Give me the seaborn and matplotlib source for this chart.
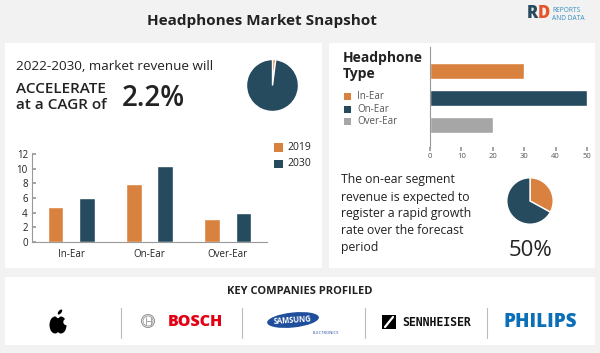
import seaborn as sns
import pandas as pd
import matplotlib.pyplot as plt
import numpy as np
from matplotlib.patches import Rectangle, Ellipse, Circle

# --- data ---
segments = ['In-Ear', 'On-Ear', 'Over-Ear']
years = ['2019', '2030']
revenue_2019 = [4.8, 7.9, 3.2]
revenue_2030 = [6.0, 10.4, 3.9]
type_share = [30, 50, 20]
cagr_pie = [2, 98]
onear_pie = [33, 67]
companies = ['BOSCH', 'SAMSUNG', 'SENNHEISER', 'PHILIPS']

ORANGE = '#d9823f'
NAVY = '#264a5e'
GRAY = '#a6a6a6'
TXT = '#222222'

sns.set_theme(style='white')
plt.rcParams['font.family'] = ['Open Sans', 'DejaVu Sans']

W, H = 600, 353
fig = plt.figure(figsize=(6, 3.53), dpi=100)
fig.patch.set_facecolor('#f2f2f2')


def box(x0, y0, x1, y1):
    # pixel box (top-left origin) -> fig fraction rect
    return [x0 / W, 1 - y1 / H, (x1 - x0) / W, (y1 - y0) / H]


# background layer in pixel coordinates
bg = fig.add_axes([0, 0, 1, 1], zorder=0)
bg.set_xlim(0, W)
bg.set_ylim(H, 0)
bg.axis('off')
for x0, y0, x1, y1 in [(5, 43, 322, 268), (329, 43, 595, 268), (5, 277, 595, 345)]:
    bg.add_patch(Rectangle((x0, y0), x1 - x0, y1 - y0, color='white', lw=0))

# title + logo
bg.text(262, 21, 'Headphones Market Snapshot', ha='center', va='center',
        fontsize=11, fontweight='bold', color=TXT)
bg.text(538, 14, 'R', ha='right', va='center', fontsize=12, fontweight='heavy', color=NAVY)
bg.text(538, 14, 'D', ha='left', va='center', fontsize=12, fontweight='heavy', color='#e8542a')
bg.text(552, 10, 'REPORTS', ha='left', va='center', fontsize=4.8, color='#3a8fc4')
bg.text(552, 18, 'AND DATA', ha='left', va='center', fontsize=4.8, color='#3a8fc4')

# top-left text
bg.text(16, 66, '2022-2030, market revenue will', ha='left', va='center', fontsize=9.7, color=TXT)
bg.text(16, 97, 'ACCELERATE\nat a CAGR of', ha='left', va='center', fontsize=11,
        fontweight='semibold', color=TXT, linespacing=1.15)
bg.text(122, 98, '2.2%', ha='left', va='center', fontsize=20, fontweight='semibold', color=TXT)

# bar chart legend
for i, (yr, col) in enumerate(zip(years, [ORANGE, NAVY])):
    yc = 147 + i * 16.5
    bg.add_patch(Rectangle((274, yc - 4), 8.5, 8.5, color=col, lw=0))
    bg.text(287, yc, yr, ha='left', va='center', fontsize=7.5, color=TXT)

# right panel title + legend
bg.text(343, 66, 'Headphone\nType', ha='left', va='center', fontsize=10,
        fontweight='bold', color=TXT, linespacing=1.2)
for i, (seg, col) in enumerate(zip(segments, [ORANGE, NAVY, GRAY])):
    yc = 96.5 + i * 12.5
    bg.add_patch(Rectangle((344, yc - 3.5), 7, 7, color=col, lw=0))
    bg.text(357, yc, seg, ha='left', va='center', fontsize=7, color='#555555')

bg.text(341, 214, 'The on-ear segment\nrevenue is expected to\nregister a rapid growth\n'
        'rate over the forecast\nperiod', ha='left', va='center', fontsize=8.8,
        color=TXT, linespacing=1.4)
bg.text(530, 250, '50%', ha='center', va='center', fontsize=16, color=TXT)

# bottom panel: companies
bg.text(300, 291, 'KEY COMPANIES PROFILED', ha='center', va='center', fontsize=8,
        fontweight='bold', color=TXT)
for sx in [121, 242, 365, 487]:
    bg.plot([sx, sx], [308, 338], color='#bbbbbb', lw=0.8)

# apple
bg.add_patch(Ellipse((55, 325), 11, 17, color='black', lw=0))
bg.add_patch(Ellipse((61, 325), 11, 17, color='black', lw=0))
bg.add_patch(Circle((66.5, 322), 3.2, color='white', lw=0))
bg.add_patch(Circle((58, 316.5), 1.6, color='white', lw=0))
bg.add_patch(Ellipse((60, 312), 3, 6, angle=40, color='black', lw=0))

# bosch
bg.add_patch(Circle((148, 321), 6.5, fill=False, ec='#999999', lw=0.8))
bg.add_patch(Circle((148, 321), 5, fill=False, ec='#999999', lw=0.6))
bg.plot([145.5, 145.5], [317, 325], color='#999999', lw=0.6)
bg.plot([150.5, 150.5], [317, 325], color='#999999', lw=0.6)
bg.plot([145.5, 150.5], [321, 321], color='#999999', lw=0.6)
bg.text(168, 321.5, companies[0], ha='left', va='center', fontsize=11.5,
        fontweight='heavy', color='#e20015')

# samsung
bg.add_patch(Ellipse((293, 320), 52, 15, angle=-6, color='#1f4e9c', lw=0))
bg.text(292, 320, companies[1], ha='center', va='center', fontsize=5.5,
        fontweight='bold', color='white', rotation=4)
bg.text(326, 333, 'ELECTRONICS', ha='center', va='center', fontsize=3, color='#1f4e9c')

# sennheiser
bg.add_patch(Rectangle((382, 315), 14, 14, color='black', lw=0))
bg.plot([385, 393], [327, 317], color='white', lw=1.6)
bg.text(402, 322, companies[2], ha='left', va='center', fontsize=8.3,
        fontweight='bold', color='#111111', family='DejaVu Sans Mono')

# philips
bg.text(540, 322, companies[3], ha='center', va='center', fontsize=13.5,
        fontweight='heavy', color='#0b6fb8')

# --- grouped bar chart ---
df = pd.DataFrame({
    'segment': segments * 2,
    'year': [years[0]] * 3 + [years[1]] * 3,
    'revenue': revenue_2019 + revenue_2030,
})
ax1 = fig.add_axes(box(32, 154, 267, 242), zorder=1)
ax1.patch.set_alpha(0)
sns.barplot(data=df, x='segment', y='revenue', hue='year', palette=[ORANGE, NAVY],
            width=0.8, gap=0.5, saturation=1, ax=ax1, legend=False)
ax1.set_xlim(-0.5, 2.5)
ax1.set_ylim(0, 12)
ax1.set_yticks(range(0, 13, 2))
ax1.set_xlabel('')
ax1.set_ylabel('')
ax1.set_xticks([0.5, 1.5], minor=True)
ax1.tick_params(axis='x', which='major', length=0, labelsize=7, colors=TXT, pad=5)
ax1.tick_params(axis='x', which='minor', length=3, color='#999999', direction='out')
ax1.tick_params(axis='y', length=3, direction='in', color='#999999', labelsize=7,
                colors=TXT, left=True, pad=3)
for s in ['top', 'right']:
    ax1.spines[s].set_visible(False)
for s in ['left', 'bottom']:
    ax1.spines[s].set_color('#999999')
    ax1.spines[s].set_linewidth(0.8)

# --- horizontal bar chart ---
ax2 = fig.add_axes(box(430, 47, 587, 147), zorder=1)
ax2.patch.set_alpha(0)
sns.barplot(x=type_share, y=segments, hue=segments, palette=[ORANGE, NAVY, GRAY],
            orient='h', width=0.6, saturation=1, ax=ax2, legend=False)
ax2.set_xlim(0, 50)
ax2.set_ylim(2.81, -0.89)
ax2.set_xticks(range(0, 51, 10))
ax2.set_yticks([])
ax2.set_xlabel('')
ax2.set_ylabel('')
ax2.tick_params(axis='x', length=3, color='#999999', labelsize=5.5, colors='#555555',
                bottom=True, pad=1)
for s in ['top', 'right', 'bottom']:
    ax2.spines[s].set_visible(False)
ax2.spines['left'].set_color('#999999')
ax2.spines['left'].set_linewidth(0.8)

# --- pies ---
ax3 = fig.add_axes(box(240, 53, 305, 118), zorder=1)
ax3.pie(cagr_pie, colors=[ORANGE, NAVY], startangle=90, counterclock=False)
ax3.set_aspect('equal')

ax4 = fig.add_axes(box(501, 172, 559, 230), zorder=1)
ax4.pie(onear_pie, colors=[ORANGE, NAVY], startangle=90, counterclock=False)
ax4.set_aspect('equal')

fig.savefig('out.png', dpi=100, facecolor=fig.get_facecolor())
